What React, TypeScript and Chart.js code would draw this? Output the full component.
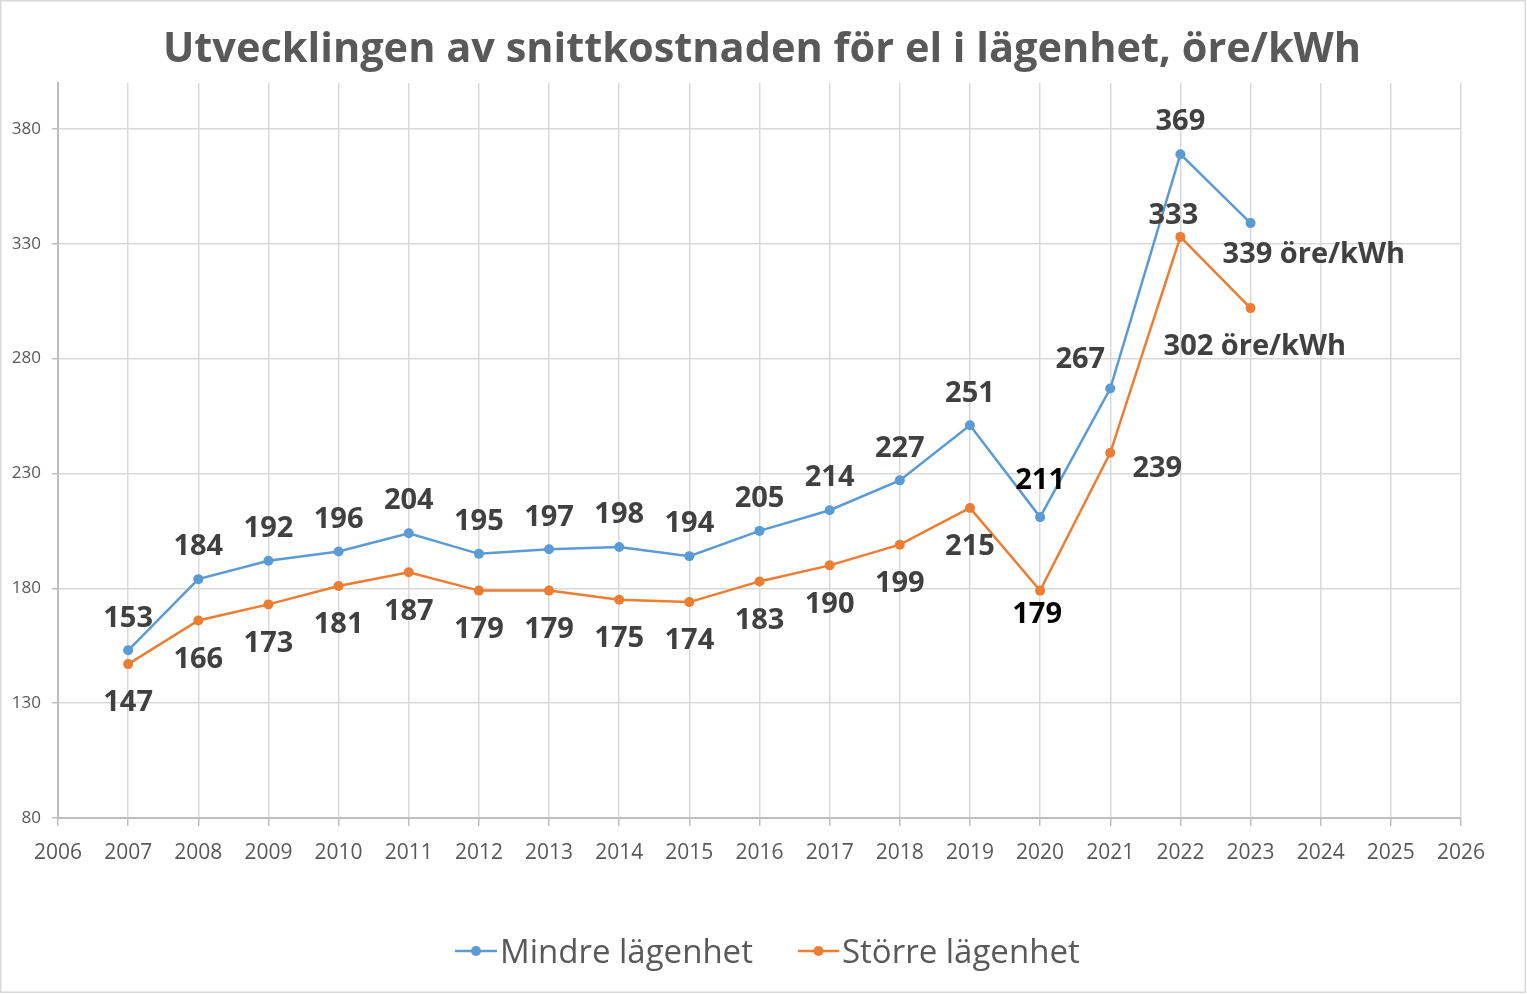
import React, { useEffect, useRef } from "react";
import { Chart, registerables } from "chart.js";

Chart.register(...registerables);

// ---- data ----
const years = [2007, 2008, 2009, 2010, 2011, 2012, 2013, 2014, 2015, 2016, 2017, 2018, 2019, 2020, 2021, 2022, 2023];
const mindre = [153, 184, 192, 196, 204, 195, 197, 198, 194, 205, 214, 227, 251, 211, 267, 369, 339];
const storre = [147, 166, 173, 181, 187, 179, 179, 175, 174, 183, 190, 199, 215, 179, 239, 333, 302];
const yTicks = [80, 130, 180, 230, 280, 330, 380];
const xMin = 2006;
const xMax = 2026;
const yMin = 80;
const yMax = 400;
const seriesNames = ["Mindre lägenhet", "Större lägenhet"];
const titleText = "Utvecklingen av snittkostnaden för el i lägenhet, öre/kWh";
const lastSuffix = " öre/kWh";

// ---- styling ----
const COLORS = ["#5b9bd5", "#ed7d31"];
const FONT = "'Open Sans', Lato, sans-serif";
const TEXT = "#595959";
const LABEL = "#404040";

type Place = { dx: number; dy: number; align?: CanvasTextAlign; color?: string };
const defaultPlace: Place[] = [
  { dx: 0, dy: -32 },
  { dx: 0, dy: 39 },
];
const specialPlace: Record<number, Place>[] = [
  {
    2020: { dx: 0, dy: -36, color: "#000000" },
    2021: { dx: -30, dy: -29 },
    2023: { dx: -28, dy: 32, align: "left" },
  },
  {
    2020: { dx: -3, dy: 24, color: "#000000" },
    2021: { dx: 47, dy: 16 },
    2022: { dx: -7, dy: -21 },
    2023: { dx: -87, dy: 39, align: "left" },
  },
];

const overlay = {
  id: "overlay",
  afterDatasetsDraw(chart: any) {
    const ctx = chart.ctx as CanvasRenderingContext2D;
    ctx.save();
    ctx.font = `bold 29px ${FONT}`;
    ctx.textBaseline = "middle";
    chart.data.datasets.forEach((ds: any, di: number) => {
      const meta = chart.getDatasetMeta(di);
      meta.data.forEach((pt: any, i: number) => {
        const yr = years[i];
        const p = specialPlace[di][yr] || defaultPlace[di];
        const v = ds.data[i].y;
        const text = i === ds.data.length - 1 ? `${v}${lastSuffix}` : `${v}`;
        ctx.fillStyle = p.color || LABEL;
        ctx.textAlign = p.align || "center";
        ctx.fillText(text, pt.x + p.dx, pt.y + p.dy);
      });
    });
    ctx.restore();
  },
  afterDraw(chart: any) {
    const ctx = chart.ctx as CanvasRenderingContext2D;
    ctx.save();
    // title
    ctx.font = `bold 41.5px ${FONT}`;
    ctx.fillStyle = TEXT;
    ctx.textAlign = "center";
    ctx.textBaseline = "middle";
    ctx.fillText(titleText, 762, 50);
    // legend
    ctx.font = `33px ${FONT}`;
    ctx.textAlign = "left";
    const items = [
      { x0: 455, x1: 497, tx: 500 },
      { x0: 798, x1: 839, tx: 842 },
    ];
    const ly = 951;
    items.forEach((it, k) => {
      ctx.strokeStyle = COLORS[k];
      ctx.lineWidth = 2.5;
      ctx.beginPath();
      ctx.moveTo(it.x0, ly);
      ctx.lineTo(it.x1, ly);
      ctx.stroke();
      ctx.fillStyle = COLORS[k];
      ctx.beginPath();
      ctx.arc((it.x0 + it.x1) / 2, ly, 5, 0, Math.PI * 2);
      ctx.fill();
      ctx.fillStyle = TEXT;
      ctx.fillText(seriesNames[k], it.tx, ly + 3);
    });
    // outer border
    ctx.strokeStyle = "#d9d9d9";
    ctx.lineWidth = 1.5;
    ctx.strokeRect(0.75, 0.75, 1524.5, 991.5);
    ctx.restore();
  },
};

export default function App() {
  const ref = useRef<HTMLCanvasElement>(null);
  useEffect(() => {
    if (!ref.current) return;
    const mk = (vals: number[]) => years.map((x, i) => ({ x, y: vals[i] }));
    const chart = new Chart(ref.current, {
      type: "line",
      data: {
        datasets: [mindre, storre].map((vals, k) => ({
          label: seriesNames[k],
          data: mk(vals),
          borderColor: COLORS[k],
          backgroundColor: COLORS[k],
          pointBackgroundColor: COLORS[k],
          pointBorderColor: COLORS[k],
          pointRadius: 5,
          pointBorderWidth: 0,
          borderWidth: 2.5,
          tension: 0,
          clip: false as any,
        })),
      },
      options: {
        animation: false,
        responsive: false,
        devicePixelRatio: 1,
        layout: { padding: { top: 83, right: 66, left: 0, bottom: 0 } },
        plugins: {
          legend: { display: false },
          tooltip: { enabled: false },
          title: { display: false },
        },
        scales: {
          x: {
            type: "linear",
            min: xMin,
            max: xMax,
            afterFit: (s: any) => {
              s.height = 176;
            },
            afterBuildTicks: (s: any) => {
              const t = [];
              for (let v = xMin; v <= xMax; v++) t.push({ value: v });
              s.ticks = t;
            },
            ticks: {
              callback: (v: any) => String(v),
              font: { family: FONT, size: 21 },
              color: TEXT,
              padding: 14,
              maxRotation: 0,
              autoSkip: false,
            },
            grid: { color: "#d9d9d9", lineWidth: 1.5, tickLength: 8, tickColor: "#bfbfbf" },
            border: { color: "#bfbfbf", width: 2 },
          },
          y: {
            type: "linear",
            min: yMin,
            max: yMax,
            afterFit: (s: any) => {
              s.width = 58;
            },
            afterBuildTicks: (s: any) => {
              s.ticks = yTicks.map((v) => ({ value: v }));
            },
            ticks: {
              callback: (v: any) => String(v),
              font: { family: FONT, size: 17 },
              color: TEXT,
              padding: 11,
            },
            grid: { color: "#d9d9d9", lineWidth: 1.5, tickLength: 6, tickColor: "#bfbfbf" },
            border: { color: "#bfbfbf", width: 2 },
          },
        },
      },
      plugins: [overlay],
    });
    return () => chart.destroy();
  }, []);
  return (
    <div style={{ position: "absolute", left: 0, top: 0, width: 1527, height: 994, background: "#fff" }}>
      <canvas ref={ref} width={1527} height={994} style={{ width: 1527, height: 994, display: "block" }} />
    </div>
  );
}
